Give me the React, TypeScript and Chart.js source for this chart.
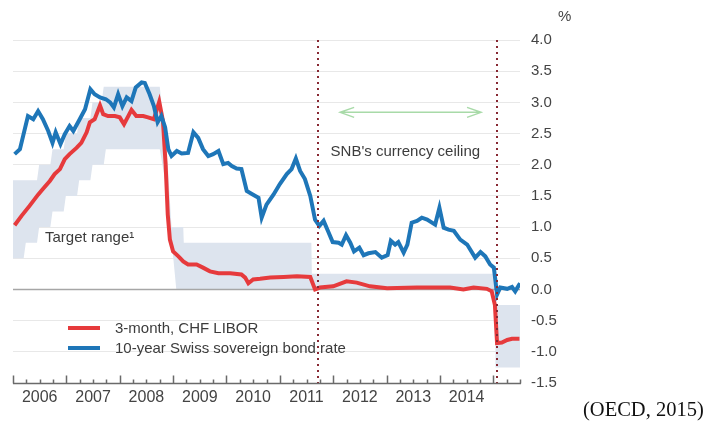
import React, { useEffect, useRef } from 'react';
import { Chart, registerables } from 'chart.js';

Chart.register(...registerables);

// ---- data ----
const seriesNames = ['3-month, CHF LIBOR', '10-year Swiss sovereign bond rate'];

const redT = [2006.03, 2006.16, 2006.31, 2006.47, 2006.56, 2006.69, 2006.78, 2006.88, 2006.97, 2007.06, 2007.19, 2007.28, 2007.38, 2007.44, 2007.53, 2007.63, 2007.69, 2007.78, 2007.91, 2008.0, 2008.08, 2008.16, 2008.22, 2008.31, 2008.44, 2008.53, 2008.64, 2008.74, 2008.81, 2008.86, 2008.9, 2008.94, 2009.0, 2009.1, 2009.19, 2009.28, 2009.44, 2009.56, 2009.69, 2009.85, 2010.07, 2010.28, 2010.35, 2010.41, 2010.5, 2010.63, 2010.82, 2011.07, 2011.32, 2011.57, 2011.66, 2011.75, 2012.0, 2012.25, 2012.44, 2012.69, 2013.01, 2013.57, 2014.19, 2014.44, 2014.63, 2014.88, 2014.97, 2015.03, 2015.07, 2015.16, 2015.26, 2015.35, 2015.49];
const redV = [1.03, 1.18, 1.34, 1.52, 1.61, 1.74, 1.85, 1.93, 2.09, 2.17, 2.27, 2.35, 2.52, 2.68, 2.73, 2.95, 2.81, 2.78, 2.78, 2.76, 2.65, 2.78, 2.88, 2.78, 2.78, 2.76, 2.73, 3.01, 2.7, 2.0, 1.2, 0.8, 0.61, 0.53, 0.45, 0.4, 0.4, 0.35, 0.29, 0.26, 0.26, 0.24, 0.19, 0.1, 0.16, 0.17, 0.19, 0.2, 0.21, 0.2, 0.0, 0.03, 0.05, 0.13, 0.11, 0.05, 0.02, 0.03, 0.03, 0.0, 0.03, 0.01, -0.03, -0.25, -0.86, -0.85, -0.81, -0.79, -0.79];

const blueT = [2006.03, 2006.13, 2006.28, 2006.38, 2006.47, 2006.56, 2006.66, 2006.74, 2006.8, 2006.89, 2006.97, 2007.06, 2007.13, 2007.25, 2007.35, 2007.45, 2007.53, 2007.63, 2007.74, 2007.82, 2007.89, 2007.97, 2008.05, 2008.13, 2008.22, 2008.3, 2008.41, 2008.47, 2008.56, 2008.64, 2008.71, 2008.78, 2008.85, 2008.91, 2008.97, 2009.07, 2009.16, 2009.28, 2009.38, 2009.47, 2009.56, 2009.66, 2009.75, 2009.85, 2009.94, 2010.03, 2010.1, 2010.19, 2010.28, 2010.38, 2010.5, 2010.6, 2010.66, 2010.75, 2010.88, 2011.0, 2011.13, 2011.22, 2011.3, 2011.38, 2011.47, 2011.57, 2011.66, 2011.74, 2011.82, 2011.91, 2011.99, 2012.1, 2012.16, 2012.24, 2012.32, 2012.39, 2012.49, 2012.57, 2012.66, 2012.79, 2012.91, 2013.02, 2013.08, 2013.16, 2013.22, 2013.32, 2013.39, 2013.47, 2013.57, 2013.66, 2013.76, 2013.91, 2013.99, 2014.07, 2014.16, 2014.26, 2014.38, 2014.51, 2014.66, 2014.76, 2014.85, 2014.94, 2015.01, 2015.07, 2015.13, 2015.26, 2015.35, 2015.41, 2015.5];
const blueV = [2.17, 2.25, 2.78, 2.73, 2.86, 2.73, 2.54, 2.35, 2.52, 2.33, 2.49, 2.62, 2.54, 2.73, 2.89, 3.21, 3.13, 3.08, 3.05, 3.0, 2.92, 3.13, 2.94, 3.08, 3.02, 3.24, 3.32, 3.31, 3.13, 2.94, 2.68, 2.78, 2.6, 2.25, 2.14, 2.22, 2.18, 2.19, 2.52, 2.43, 2.25, 2.14, 2.17, 2.22, 2.01, 2.03, 1.98, 1.94, 1.93, 1.58, 1.52, 1.47, 1.15, 1.36, 1.52, 1.69, 1.85, 1.93, 2.1, 1.9, 1.77, 1.5, 1.12, 1.02, 1.1, 0.92, 0.76, 0.75, 0.72, 0.87, 0.75, 0.61, 0.67, 0.55, 0.58, 0.6, 0.51, 0.55, 0.78, 0.72, 0.76, 0.59, 0.72, 1.07, 1.1, 1.15, 1.12, 1.04, 1.31, 0.99, 0.96, 0.94, 0.8, 0.72, 0.51, 0.6, 0.53, 0.4, 0.35, -0.08, 0.03, 0.01, 0.04, -0.03, 0.1];

// SNB target range for 3-month LIBOR
const bandT = [2006.0, 2006.2, 2006.24, 2006.45, 2006.49, 2006.7, 2006.74, 2006.95, 2006.99, 2007.2, 2007.24, 2007.45, 2007.49, 2007.66, 2007.7, 2007.74, 2008.75, 2008.9, 2008.97, 2009.06, 2009.19, 2009.2, 2011.59, 2011.6, 2015.04, 2015.05, 2015.5];
const bandLow = [0.5, 0.5, 0.75, 0.75, 1.0, 1.0, 1.25, 1.25, 1.5, 1.5, 1.75, 1.75, 2.0, 2.0, 2.0, 2.25, 2.25, 1.5, 0.8, 0, 0, 0, 0, 0, 0, -1.25, -1.25];
const bandHigh = [1.75, 1.75, 1.75, 1.75, 2.0, 2.0, 2.25, 2.25, 2.5, 2.5, 2.75, 2.75, 3.0, 3.0, 3.25, 3.25, 3.25, 2.0, 1.0, 1.0, 1.0, 0.75, 0.75, 0.25, 0.25, -0.25, -0.25];

const yearLabels = [2006, 2007, 2008, 2009, 2010, 2011, 2012, 2013, 2014];
const yTickValues = [-1.5, -1.0, -0.5, 0.0, 0.5, 1.0, 1.5, 2.0, 2.5, 3.0, 3.5, 4.0];
const eventDates = [2011.72, 2015.06];
const X_MIN = 2006;
const X_MAX = 2015.5;

const FONT = '"Liberation Sans", Arial, Helvetica, sans-serif';
const RED = 'rgb(230,58,60)';
const BLUE = 'rgb(30,118,184)';
const BAND = 'rgb(221,228,238)';

const toPts = (t: number[], v: number[]) => t.map((x, i) => ({ x, y: v[i] }));

const decor = {
  id: 'decor',
  afterDatasetDraw(chart: any, args: any) {
    if (args.index !== 2) return;
    const { ctx, chartArea, scales } = chart;
    const yz = Math.round(scales.y.getPixelForValue(0)) + 0.5;
    ctx.save();
    ctx.strokeStyle = '#a6a6a6';
    ctx.lineWidth = 1.5;
    ctx.beginPath();
    ctx.moveTo(chartArea.left, yz);
    ctx.lineTo(chartArea.right, yz);
    ctx.stroke();
    ctx.restore();
  },
  afterDatasetsDraw(chart: any) {
    const { ctx, chartArea, scales } = chart;
    const x = scales.x;
    const y = scales.y;
    ctx.save();

    // event lines (dotted)
    ctx.strokeStyle = 'rgb(135,40,50)';
    ctx.lineWidth = 2;
    ctx.setLineDash([2, 4]);
    eventDates.forEach((d) => {
      const px = Math.round(x.getPixelForValue(d));
      ctx.beginPath();
      ctx.moveTo(px, chartArea.top);
      ctx.lineTo(px, chartArea.bottom);
      ctx.stroke();
    });
    ctx.setLineDash([]);

    // double arrow
    const ay = y.getPixelForValue(2.84);
    const ax0 = x.getPixelForValue(2012.13);
    const ax1 = x.getPixelForValue(2014.77);
    ctx.strokeStyle = 'rgb(168,218,168)';
    ctx.lineWidth = 1.5;
    ctx.beginPath();
    ctx.moveTo(ax0, ay);
    ctx.lineTo(ax1, ay);
    ctx.moveTo(ax0 + 14, ay - 5);
    ctx.lineTo(ax0, ay);
    ctx.lineTo(ax0 + 14, ay + 5);
    ctx.moveTo(ax1 - 14, ay - 5);
    ctx.lineTo(ax1, ay);
    ctx.lineTo(ax1 - 14, ay + 5);
    ctx.stroke();

    // annotations
    ctx.fillStyle = '#3c3c3c';
    ctx.font = `15px ${FONT}`;
    ctx.textBaseline = 'middle';
    ctx.textAlign = 'left';
    ctx.fillText("SNB's currency ceiling", x.getPixelForValue(2011.95), y.getPixelForValue(2.2));
    ctx.fillText('Target range¹', x.getPixelForValue(2006.6), y.getPixelForValue(0.83));

    // legend
    const rows = [
      { c: RED, t: seriesNames[0], py: chartArea.top + 288 },
      { c: BLUE, t: seriesNames[1], py: chartArea.top + 308 },
    ];
    rows.forEach((r) => {
      ctx.strokeStyle = r.c;
      ctx.lineWidth = 4;
      ctx.beginPath();
      ctx.moveTo(chartArea.left + 55, r.py);
      ctx.lineTo(chartArea.left + 87, r.py);
      ctx.stroke();
      ctx.fillStyle = '#3c3c3c';
      ctx.fillText(r.t, chartArea.left + 102, r.py + 1);
    });

    // x axis line with quarterly ticks
    const by = chartArea.bottom + 0.5;
    ctx.strokeStyle = '#6a6a6a';
    ctx.lineWidth = 1.5;
    ctx.beginPath();
    ctx.moveTo(chartArea.left, by);
    ctx.lineTo(chartArea.right + 1, by);
    const nq = Math.round((X_MAX - X_MIN) * 4);
    for (let q = 0; q <= nq; q++) {
      const px = Math.round(x.getPixelForValue(X_MIN + q / 4)) + 0.5;
      const h = q % 4 === 0 ? 8 : 4;
      ctx.moveTo(px, by);
      ctx.lineTo(px, by - h);
    }
    ctx.stroke();

    // unit
    ctx.fillStyle = '#444';
    ctx.font = `15px ${FONT}`;
    ctx.fillText('%', chartArea.right + 38, 17);
    ctx.restore();
  },
};

export default function App() {
  const ref = useRef<HTMLCanvasElement | null>(null);
  useEffect(() => {
    if (!ref.current) return;
    const chart = new Chart(ref.current, {
      type: 'line',
      data: {
        datasets: [
          {
            label: seriesNames[1],
            data: toPts(blueT, blueV),
            borderColor: BLUE,
            borderWidth: 4,
            pointRadius: 0,
            fill: false,
            tension: 0,
          },
          {
            label: seriesNames[0],
            data: toPts(redT, redV),
            borderColor: RED,
            borderWidth: 4,
            pointRadius: 0,
            fill: false,
            tension: 0,
          },
          {
            label: 'Target range high',
            data: toPts(bandT, bandHigh),
            borderWidth: 0,
            borderColor: 'rgba(0,0,0,0)',
            backgroundColor: BAND,
            pointRadius: 0,
            fill: '+1',
            tension: 0,
          },
          {
            label: 'Target range low',
            data: toPts(bandT, bandLow),
            borderWidth: 0,
            borderColor: 'rgba(0,0,0,0)',
            pointRadius: 0,
            fill: false,
            tension: 0,
          },
        ],
      },
      options: {
        responsive: false,
        animation: false,
        layout: { padding: { left: 13, top: 40, right: 147, bottom: 0 } },
        plugins: { legend: { display: false }, tooltip: { enabled: false } },
        scales: {
          x: {
            type: 'linear',
            min: X_MIN,
            max: X_MAX,
            afterBuildTicks: (scale: any) => {
              scale.ticks = yearLabels.map((yr) => ({ value: yr + 0.5 }));
            },
            afterFit: (scale: any) => {
              scale.height = 38;
            },
            grid: { display: false, drawTicks: false },
            border: { display: false },
            ticks: {
              autoSkip: false,
              maxRotation: 0,
              padding: 5,
              color: '#444',
              font: { family: FONT, size: 16 },
              callback: (v: any) => String(Math.floor(Number(v))),
            },
          },
          y: {
            position: 'right',
            min: -1.5,
            max: 4,
            afterBuildTicks: (scale: any) => {
              scale.ticks = yTickValues.map((v) => ({ value: v }));
            },
            afterFit: (scale: any) => {
              scale.width = 40;
            },
            grid: { color: '#e8e8e8', lineWidth: 1, drawTicks: false },
            border: { display: false },
            ticks: {
              padding: 11,
              color: '#444',
              font: { family: FONT, size: 15 },
              callback: (v: any) => Number(v).toFixed(1),
            },
          },
        },
      },
      plugins: [decor],
    });
    return () => chart.destroy();
  }, []);

  return (
    <div style={{ position: 'absolute', left: 0, top: 0, width: 707, height: 421, background: '#fff' }}>
      <canvas ref={ref} width={707} height={421} style={{ display: 'block' }} />
      <span
        style={{
          position: 'absolute',
          left: 583,
          top: 397,
          fontFamily: '"Liberation Serif", "Times New Roman", serif',
          fontSize: 20.5,
          lineHeight: '24px',
          color: '#111',
          whiteSpace: 'nowrap',
        }}
      >
        (OECD, 2015)
      </span>
    </div>
  );
}
